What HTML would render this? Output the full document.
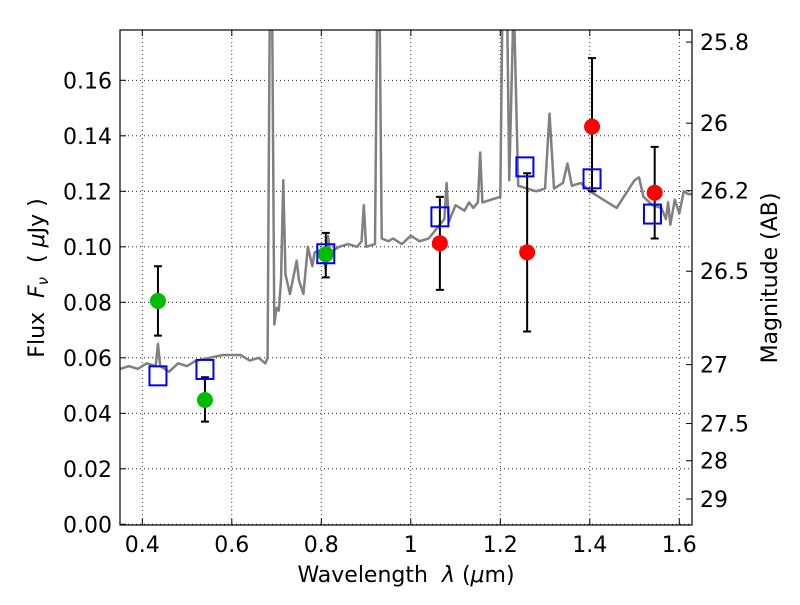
<!DOCTYPE html>
<html><head><meta charset="utf-8"><style>
body{margin:0;background:#fff}
svg text{font-family:"DejaVu Sans","Liberation Sans",sans-serif;fill:#000;white-space:pre}
</style></head><body>
<svg id="chart" width="800" height="600" xmlns="http://www.w3.org/2000/svg">
<defs><clipPath id="clip"><rect x="120" y="30" width="572" height="495"/></clipPath></defs>
<rect x="0" y="0" width="800" height="600" fill="#fff"/>
<g id="grid"></g>
<g id="spec" clip-path="url(#clip)"></g>
<g id="pts"></g>
<rect x="120" y="30" width="572" height="495" fill="none" stroke="#000" stroke-width="1.2"/>
<g id="axes"></g>
<text x="406" y="582" font-size="22" text-anchor="middle">Wavelength  <tspan font-style="italic">λ</tspan> (<tspan font-style="italic">μ</tspan>m)</text>
<text transform="translate(44,278) rotate(-90)" font-size="22" text-anchor="middle">Flux  <tspan font-style="italic">F<tspan font-size="15" dy="4">ν</tspan></tspan><tspan dy="-4">  ( </tspan><tspan font-style="italic">μ</tspan>Jy )</text>
<text transform="translate(777,278) rotate(-90)" font-size="22" text-anchor="middle">Magnitude (AB)</text>
</svg>
<script>
const xTicks=[0.4,0.6,0.8,1.0,1.2,1.4,1.6];
const xTickLabels=["0.4","0.6","0.8","1","1.2","1.4","1.6"];
const yTicks=[0,0.02,0.04,0.06,0.08,0.10,0.12,0.14,0.16];
const yTickLabels=["0.00","0.02","0.04","0.06","0.08","0.10","0.12","0.14","0.16"];
const magTicks=[25.8,26,26.2,26.5,27,27.5,28,29];
const magTickLabels=["25.8","26","26.2","26.5","27","27.5","28","29"];
const specW=[0.35,0.37,0.39,0.41,0.43,0.435,0.44,0.46,0.48,0.50,0.52,0.55,0.58,0.62,0.64,0.66,0.675,0.68,0.685,0.69,0.695,0.70,0.705,0.71,0.715,0.72,0.73,0.745,0.75,0.76,0.77,0.78,0.785,0.80,0.81,0.815,0.82,0.84,0.86,0.88,0.89,0.895,0.90,0.92,0.925,0.93,0.935,0.95,0.96,0.98,1.0,1.02,1.04,1.06,1.075,1.08,1.085,1.10,1.12,1.13,1.14,1.15,1.155,1.16,1.18,1.20,1.205,1.215,1.22,1.23,1.24,1.26,1.28,1.30,1.31,1.32,1.34,1.35,1.36,1.38,1.40,1.42,1.44,1.46,1.48,1.50,1.51,1.52,1.54,1.56,1.57,1.575,1.58,1.59,1.60,1.61,1.62,1.628];
const specF=[0.056,0.057,0.056,0.058,0.057,0.065,0.057,0.055,0.058,0.057,0.059,0.060,0.061,0.061,0.059,0.060,0.058,0.060,0.19,0.19,0.072,0.078,0.077,0.088,0.124,0.090,0.083,0.095,0.088,0.083,0.100,0.093,0.098,0.099,0.092,0.104,0.098,0.100,0.101,0.100,0.102,0.115,0.100,0.101,0.19,0.19,0.103,0.102,0.103,0.101,0.104,0.102,0.103,0.107,0.110,0.123,0.109,0.115,0.113,0.116,0.114,0.116,0.134,0.116,0.117,0.118,0.19,0.19,0.124,0.19,0.122,0.121,0.120,0.121,0.148,0.121,0.123,0.130,0.122,0.123,0.120,0.118,0.116,0.114,0.119,0.124,0.125,0.118,0.115,0.114,0.110,0.116,0.108,0.117,0.112,0.120,0.119,0.119];
const greenW=[0.435,0.54,0.81];
const greenF=[0.0805,0.0448,0.0973];
const greenLo=[0.068,0.037,0.089];
const greenHi=[0.093,0.053,0.105];
const redW=[1.065,1.26,1.405,1.545];
const redF=[0.1013,0.098,0.1433,0.1195];
const redLo=[0.0845,0.0695,0.120,0.103];
const redHi=[0.118,0.1265,0.168,0.136];
const sqW=[0.435,0.54,0.81,1.065,1.255,1.405,1.54];
const sqF=[0.0535,0.0558,0.0975,0.1108,0.1288,0.1245,0.1118];

const X=w=>142.3+(w-0.4)*447.5;
const Y=f=>524.3-f*2775;
const NS="http://www.w3.org/2000/svg";
function mk(tag,attrs,parent){const e=document.createElementNS(NS,tag);for(const k in attrs)e.setAttribute(k,attrs[k]);parent.appendChild(e);return e;}
const grid=document.getElementById('grid'),axes=document.getElementById('axes'),spec=document.getElementById('spec'),pts=document.getElementById('pts');
xTicks.forEach((t,i)=>{const x=X(t);
 let g=mk('line',{x1:x,x2:x,y1:30,y2:525,stroke:'#000','stroke-width':0.8,'stroke-dasharray':'1,3'},grid);
 
 let a=mk('line',{x1:x,x2:x,y1:525,y2:519,stroke:'#000'},axes);
 let b=mk('line',{x1:x,x2:x,y1:30,y2:36,stroke:'#000'},axes);
 let l=mk('text',{x:x,y:552,'font-size':22,'text-anchor':'middle'},axes);l.textContent=xTickLabels[i];
 });
yTicks.forEach((t,i)=>{const y=Y(t);
 let g=mk('line',{x1:120,x2:692,y1:y,y2:y,stroke:'#000','stroke-width':0.8,'stroke-dasharray':'1,3'},grid);
 
 let a=mk('line',{x1:120,x2:126,y1:y,y2:y,stroke:'#000'},axes);
 let l=mk('text',{x:112,y:y+8,'font-size':22,'text-anchor':'end'},axes);l.textContent=yTickLabels[i];
 });
magTicks.forEach((m,i)=>{const y=Y(Math.pow(10,(23.9-m)/2.5));
 let a=mk('line',{x1:692,x2:686,y1:y,y2:y,stroke:'#000'},axes);
 let l=mk('text',{x:700,y:y+8,'font-size':22},axes);l.textContent=magTickLabels[i];
 });
const p=mk('polyline',{points:specW.map((w,i)=>X(w)+','+Y(specF[i])).join(' '),fill:'none',stroke:'#808080','stroke-width':2.5,'stroke-linejoin':'round'},spec);

function errbar(w,lo,hi){const x=X(w);
 let e=mk('path',{d:`M${x},${Y(lo)}V${Y(hi)}M${x-4},${Y(lo)}h8M${x-4},${Y(hi)}h8`,stroke:'#000','stroke-width':2,fill:'none'},pts);
 }
greenW.forEach((w,i)=>errbar(w,greenLo[i],greenHi[i]));
redW.forEach((w,i)=>errbar(w,redLo[i],redHi[i]));
greenW.forEach((w,i)=>{let c=mk('circle',{cx:X(w),cy:Y(greenF[i]),r:8,fill:'#00bb00'},pts);
 });
redW.forEach((w,i)=>{let c=mk('circle',{cx:X(w),cy:Y(redF[i]),r:8,fill:'#ff0000'},pts);
 });
sqW.forEach((w,i)=>{let r=mk('rect',{x:X(w)-8.5,y:Y(sqF[i])-9.5,width:17,height:19,fill:'none',stroke:'#0000ff','stroke-width':2},pts);
 });
</script>
</body></html>
